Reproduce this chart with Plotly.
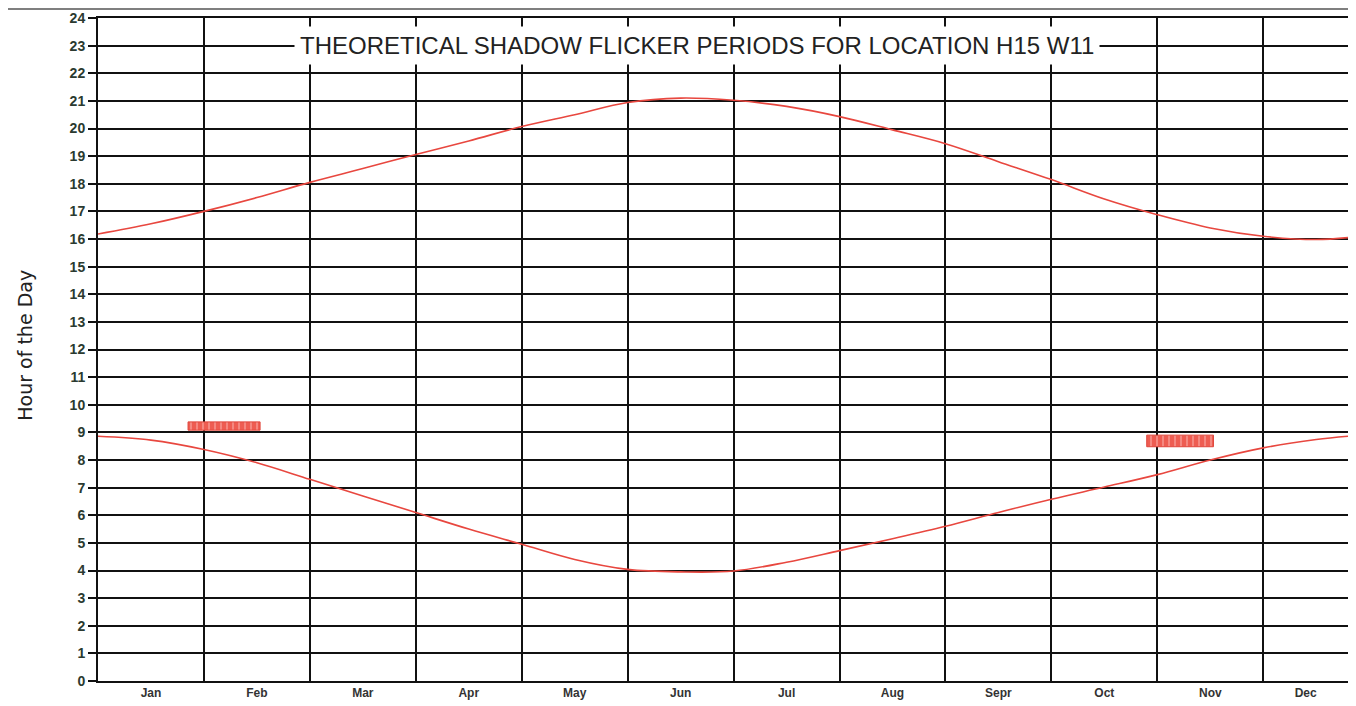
import plotly.graph_objects as go

# ---- data ----
months = ["Jan", "Feb", "Mar", "Apr", "May", "Jun", "Jul", "Aug", "Sepr", "Oct", "Nov", "Dec"]
hours = list(range(0, 25))

# curve sample positions in month units (0 = start of Jan)
curve_x = [0, 0.5, 1, 1.5, 2, 2.5, 3, 3.5, 4, 4.5, 5, 5.5, 6, 6.5, 7, 7.5, 8, 8.5, 9, 9.5, 10, 10.5, 11, 11.5, 11.8]
sunset = [16.18, 16.55, 17.0, 17.5, 18.05, 18.55, 19.06, 19.55, 20.07, 20.5, 20.94, 21.1, 21.02, 20.8,
          20.43, 19.95, 19.45, 18.8, 18.15, 17.45, 16.88, 16.4, 16.1, 15.98, 16.05]
sunrise = [8.86, 8.72, 8.38, 7.9, 7.3, 6.7, 6.1, 5.5, 4.95, 4.4, 4.04, 3.95, 3.98, 4.3,
           4.72, 5.15, 5.6, 6.1, 6.58, 7.02, 7.47, 8.0, 8.44, 8.74, 8.86]

# shadow flicker periods (month-unit start/end, hour low/high)
flicker_x0 = [0.85, 9.9]
flicker_x1 = [1.53, 10.53]
flicker_y0 = [9.08, 8.48]
flicker_y1 = [9.38, 8.9]

title_text = "THEORETICAL SHADOW FLICKER PERIODS FOR LOCATION H15 W11"
y_title = "Hour of the Day"
x_end = 11.8

# page is 1356x706; the html body has an 8px margin, so the figure starts at (8, 8)
OFF = 8
W, H = 1356 - OFF, 706 - OFF
ml, mt = 98 - OFF, 18 - OFF
mr = OFF + W - 1348
mb = OFF + H - 681.5
pw = W - ml - mr
ph = H - mt - mb


def px_x(page_x):
    return (page_x - OFF - ml) / pw


def px_y(page_y):
    return (H - mb - (page_y - OFF)) / ph


fig = go.Figure()

line_color = "#e8473f"
fig.add_trace(go.Scatter(x=curve_x, y=sunset, mode="lines", line=dict(color=line_color, width=1.6, shape="spline"),
                         showlegend=False, hoverinfo="skip"))
fig.add_trace(go.Scatter(x=curve_x, y=sunrise, mode="lines", line=dict(color=line_color, width=1.6, shape="spline"),
                         showlegend=False, hoverinfo="skip"))

for x0, x1, y0, y1 in zip(flicker_x0, flicker_x1, flicker_y0, flicker_y1):
    fig.add_trace(go.Scatter(
        x=[x0, x1, x1, x0, x0], y=[y0, y0, y1, y1, y0], mode="lines", fill="toself",
        fillcolor="#ee5d52",
        fillpattern=dict(shape="|", bgcolor="#ee5d52", fgcolor="#ffd3cf", size=6, solidity=0.25),
        line=dict(color="#e0463c", width=1), showlegend=False, hoverinfo="skip"))

label_pos = [min(i + 0.5, (i + x_end) / 2) for i in range(len(months))]

fig.update_xaxes(
    range=[0, x_end], tickvals=label_pos, ticktext=months, showgrid=False, ticks="", zeroline=False,
    automargin=False,
    tickfont=dict(family="Liberation Sans, Arial", size=12, color="#333333", weight="bold"),
    showline=True, linecolor="#111111", linewidth=2, mirror=True,
    minor=dict(tickmode="linear", tick0=0, dtick=1, showgrid=True, gridcolor="#111111", gridwidth=2, ticks=""),
)
fig.update_yaxes(
    range=[0, 24], tickvals=hours, ticktext=[str(h) for h in hours], showgrid=True, gridcolor="#111111",
    gridwidth=2, ticks="outside", ticklen=8, tickcolor="#111111", tickwidth=2, zeroline=False,
    automargin=False,
    tickfont=dict(family="Liberation Sans, Arial", size=14, color="#2b3a30", weight="bold"),
    showline=True, linecolor="#111111", linewidth=2, mirror=True,
)

fig.add_annotation(x=px_x(697), xref="paper", xanchor="center", y=23, yref="y", text=title_text, showarrow=False,
                   font=dict(family="Liberation Sans, Arial", size=24, color="#222222"),
                   bgcolor="white", borderpad=5)

fig.add_annotation(x=px_x(25), xref="paper", xanchor="center", y=px_y(346), yref="paper", yanchor="middle",
                   text=y_title, textangle=-90, showarrow=False,
                   font=dict(family="DejaVu Sans", size=19, color="#222222"))

# scanned page top rule
fig.add_shape(type="line", xref="paper", yref="paper", x0=px_x(8), x1=px_x(1348), y0=px_y(9),
              y1=px_y(9), line=dict(color="#555555", width=1.5), layer="above")

fig.update_layout(width=W, height=H, margin=dict(l=ml, r=mr, t=mt, b=mb), plot_bgcolor="white",
                  paper_bgcolor="white", showlegend=False)

fig.write_html("out.html")
